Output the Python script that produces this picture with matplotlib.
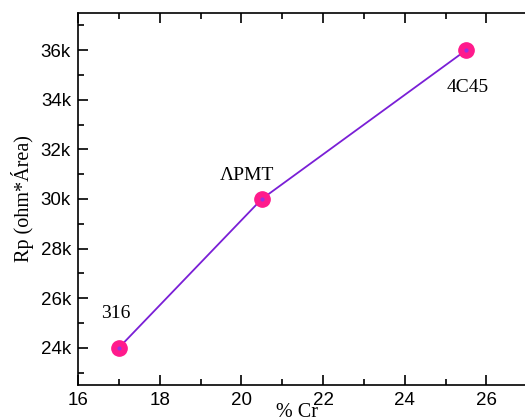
import matplotlib.pyplot as plt
from matplotlib.ticker import FuncFormatter, MultipleLocator

# Data
cr = [17, 20.5, 25.5]
rp = [24000, 30000, 36000]
names = ["316", "ΛPMT", "4C45"]
offsets = [(-2, 25), (-11, 17), (1, -27)]

fig = plt.figure(figsize=(5.25, 4.19), dpi=100)
ax = fig.add_axes([78 / 525, 1 - 385 / 419, 1.02 - 78 / 525, (385 - 13) / 419])

ax.plot(cr, rp, color="#7A1FD6", lw=1.3, zorder=1)
ax.plot(cr, rp, "o", ms=11, color="#FF1A8C", mec="#FF1A8C", zorder=2)
ax.plot(cr, rp, "o", ms=3, color="#9A30E0", mec="none", zorder=3)

for x, y, t, off in zip(cr, rp, names, offsets):
    ax.annotate(t, (x, y), xytext=off, textcoords="offset points",
                ha="center", va="center", fontsize=14, family="Liberation Serif")

ax.set_xlim(16, 27.2)
ax.set_ylim(22500, 37500)
ax.xaxis.set_major_locator(MultipleLocator(2))
ax.xaxis.set_minor_locator(MultipleLocator(1))
ax.yaxis.set_major_locator(MultipleLocator(2000))
ax.yaxis.set_minor_locator(MultipleLocator(1000))
ax.yaxis.set_major_formatter(FuncFormatter(lambda v, p: f"{int(v/1000)}k"))

ax.tick_params(which="both", direction="in", top=True, right=False, width=1.2)
ax.tick_params(which="major", length=7, labelsize=13.5, pad=5)
ax.tick_params(which="minor", length=4)
for lab in ax.get_xticklabels() + ax.get_yticklabels():
    lab.set_family("Liberation Sans")
for s in ax.spines.values():
    s.set_linewidth(1.2)

# x label sits low, partly clipped by the bottom edge like the original
fig.text(297 / 525, 1 - 403 / 419, "% Cr", fontsize=14.5, family="Liberation Serif",
         ha="center", va="top")
ax.set_ylabel("Rp (ohm*Área)", fontsize=14.5, family="Liberation Serif", labelpad=5)

fig.savefig("out.png", dpi=100)
